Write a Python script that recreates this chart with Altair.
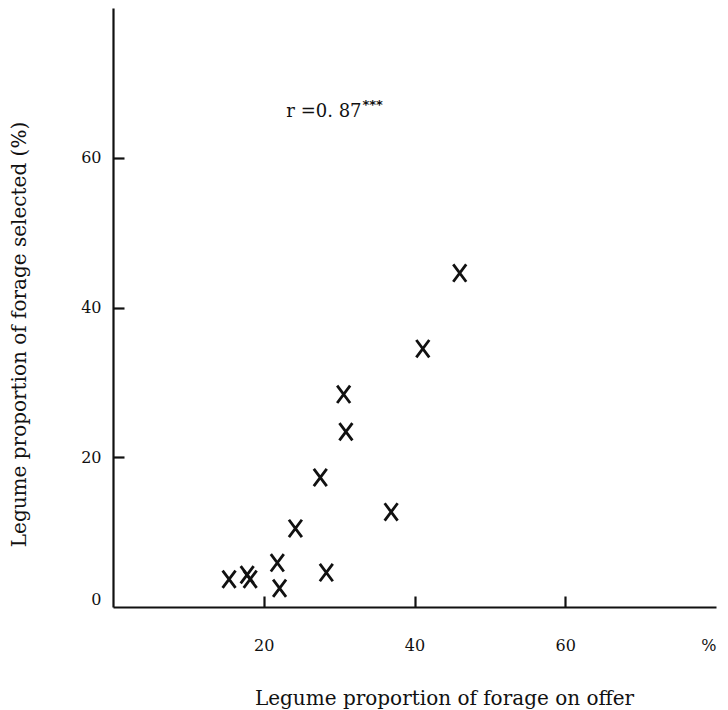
import altair as alt
import pandas as pd

# Data
offer = [15.4, 17.8, 18.2, 21.8, 22.1, 24.2, 27.5, 28.3, 30.6, 30.9, 36.9, 41.1, 46.0]
selected = [3.7, 4.3, 3.7, 5.9, 2.5, 10.5, 17.3, 4.6, 28.4, 23.4, 12.7, 34.5, 44.6]

x_ticks = [20, 40, 60]
x_labels = [20, 40, 60, 80]
y_ticks = [20, 40, 60]
y_labels = [0, 20, 40, 60]

annot_text = ["r =0. 87"]
annot_x = [23.0]
annot_y = [66.1]
star_text = ["***"]
star_x = [33.1]
star_y = [67.0]

W, H = 603, 599
FONT = "DejaVu Serif"
INK = "#111111"

pts = pd.DataFrame({"offer": offer, "selected": selected})
ann = pd.DataFrame({"t": annot_text, "ax": annot_x, "ay": annot_y})
stars = pd.DataFrame({"t": star_text, "sx": star_x, "sy": star_y})

xscale = alt.Scale(domain=[0, 80], nice=False, zero=False)
yscale = alt.Scale(domain=[0, 80], nice=False, zero=False)

# Main layer: points + axis lines with labels
points = alt.Chart(pts).mark_point(
    shape="M-0.75,-1L0.75,1M0.75,-1L-0.75,1",
    size=300,
    strokeWidth=2.8,
    color=INK,
    filled=False,
    opacity=1,
).encode(
    x=alt.X("offer:Q", scale=xscale, axis=alt.Axis(
        values=x_labels,
        labelExpr="datum.value == 80 ? '%' : datum.label",
        ticks=False, tickSize=0, grid=False,
        domain=True, domainWidth=2.2, domainColor=INK,
        labelFont=FONT, labelFontSize=16, labelColor=INK, labelPadding=30,
        title="Legume proportion of forage on offer",
        titleFont=FONT, titleFontSize=20, titleFontWeight="normal", titleColor=INK,
        titleX=331, titleY=91, titleAlign="center", titleBaseline="middle",
    )),
    y=alt.Y("selected:Q", scale=yscale, axis=alt.Axis(
        values=y_labels,
        ticks=False, tickSize=0, grid=False,
        domain=True, domainWidth=2.2, domainColor=INK,
        labelFont=FONT, labelFontSize=16, labelColor=INK, labelPadding=12,
        labelFlush=True,
        title="Legume proportion of forage selected (%)",
        titleFont=FONT, titleFontSize=20, titleFontWeight="normal", titleColor=INK,
        titleX=-94, titleY=326, titleAngle=270, titleAlign="center", titleBaseline="middle",
    )),
)

# Inward ticks: axes placed on the opposite side and moved across the plot
annot = alt.Chart(ann).mark_text(
    font=FONT, fontSize=18, color=INK, align="left", baseline="middle"
).encode(
    x=alt.X("ax:Q", scale=xscale, axis=alt.Axis(
        orient="top", offset=-H, values=x_ticks, labels=False, domain=False,
        grid=False, ticks=True, tickSize=11, tickWidth=2.2, tickColor=INK, title=None,
    )),
    y=alt.Y("ay:Q", scale=yscale, axis=alt.Axis(
        orient="right", offset=-W, values=y_ticks, labels=False, domain=False,
        grid=False, ticks=True, tickSize=11, tickWidth=2.2, tickColor=INK, title=None,
    )),
    text="t:N",
)

star_layer = alt.Chart(stars).mark_text(
    font="DejaVu Sans", fontSize=13, fontWeight="bold", color=INK, align="left", baseline="middle"
).encode(
    x=alt.X("sx:Q", scale=xscale, axis=None),
    y=alt.Y("sy:Q", scale=yscale, axis=None),
    text="t:N",
)

chart = alt.layer(points, annot, star_layer).resolve_axis(
    x="independent", y="independent"
).properties(
    width=W, height=H,
    autosize=alt.AutoSizeParams(type="none"),
    padding={"left": 113, "top": 8, "right": 12, "bottom": 103},
    background="white",
).configure_view(strokeWidth=0)

chart.save("out.html", embed_options={"renderer": "svg", "actions": False})
